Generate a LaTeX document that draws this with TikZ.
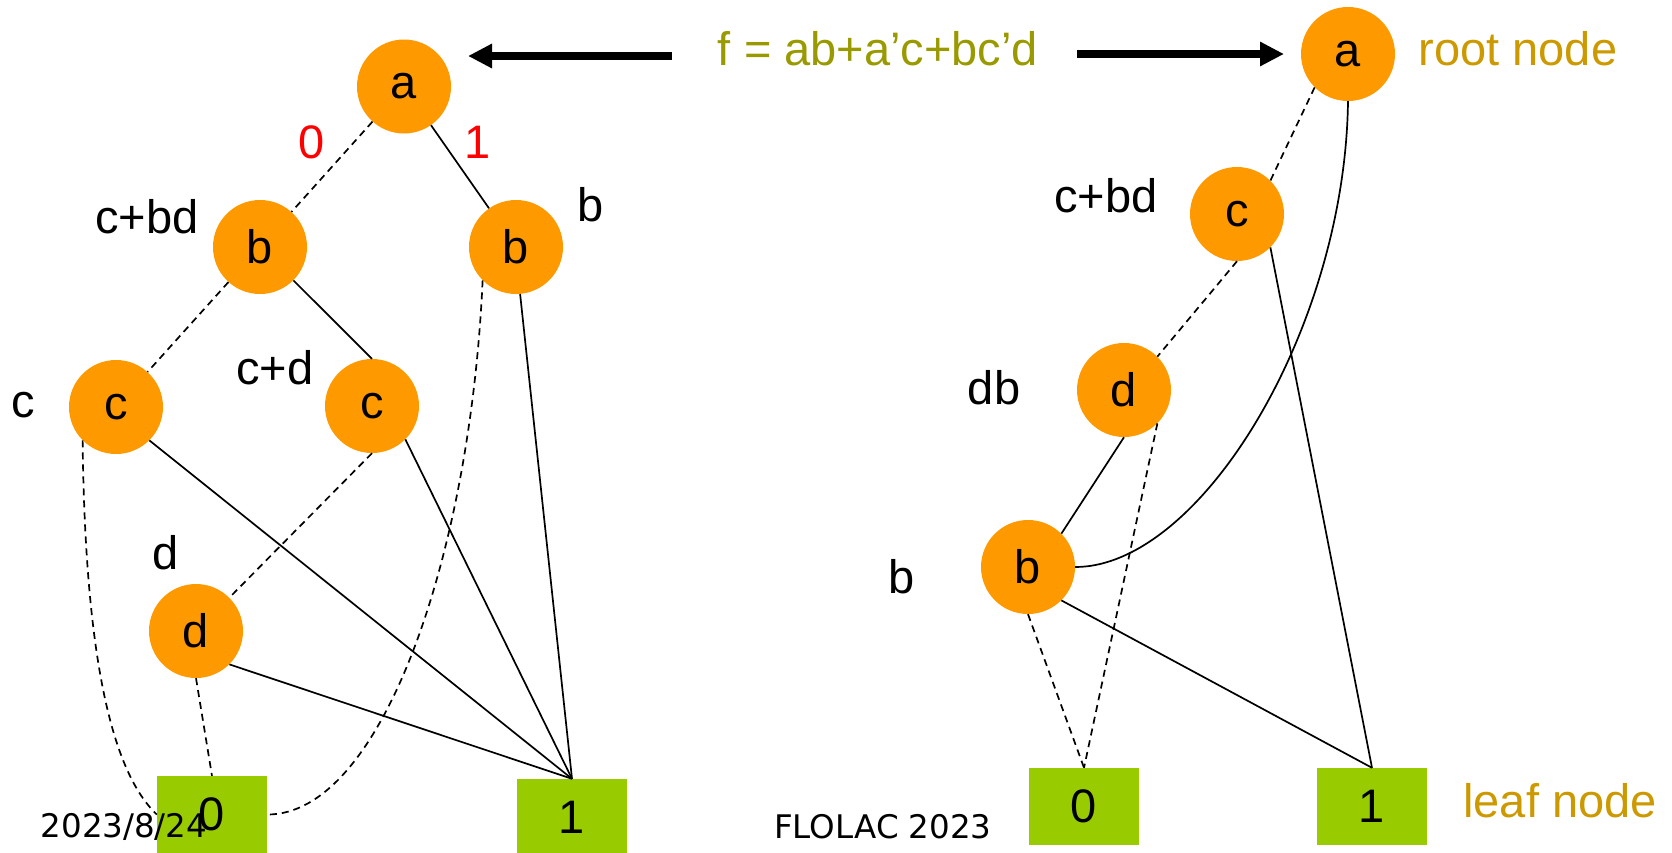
\documentclass[tikz,border=0pt]{standalone}
\usepackage{fontspec}
\setmainfont{Liberation Sans}
\newfontfamily\dvfont{DejaVu Sans}
\usetikzlibrary{arrows.meta}
\definecolor{bddorange}{RGB}{255,153,0}
\definecolor{leafgreen}{RGB}{153,204,0}
\definecolor{olivetext}{RGB}{153,153,0}
\definecolor{goldtext}{RGB}{204,153,0}
\begin{document}
\begin{tikzpicture}[x=1pt,y=-1pt,
  bdd/.style={circle,fill=bddorange,minimum size=94pt,inner sep=0pt,font=\fontsize{47}{56}\selectfont},
  leaf/.style={rectangle,fill=leafgreen,minimum width=110pt,minimum height=77pt,inner sep=0pt,font=\fontsize{47}{56}\selectfont},
  lbl/.style={inner sep=0pt,font=\fontsize{47}{56}\selectfont},
  foot/.style={inner sep=0pt,font=\dvfont\fontsize{32.5}{38}\selectfont},
  zeroedge/.style={line width=1.7pt,dash pattern=on 7pt off 5pt},
  oneedge/.style={line width=1.7pt},
  bigarrow/.style={line width=8pt,-{Triangle[length=24pt,width=23pt]}}
]
\useasboundingbox (0,0) rectangle (1672,852);

% left diagram nodes
\node[bdd] (aL) at (404,86.5) {a};
\node[bdd] (bL1) at (260,247) {b};
\node[bdd] (bL2) at (516,247) {b};
\node[bdd] (cL1) at (116,407) {c};
\node[bdd] (cL2) at (372,406) {c};
\node[bdd] (dL) at (196,631) {d};
\node[leaf] (zeroL) at (212,814.5) {0};
\node[leaf] (oneL) at (572,817.5) {1};

% right diagram nodes
\node[bdd] (aR) at (1348,54) {a};
\node[bdd] (cR) at (1237,214) {c};
\node[bdd] (dR) at (1124,390) {d};
\node[bdd] (bR) at (1028,567) {b};
\node[leaf] (zeroR) at (1084,806.5) {0};
\node[leaf] (oneR) at (1372,806.5) {1};

% labels
\node[lbl,text=red] (l0) at (312,142) {0};
\node[lbl,text=red] (l1) at (478,142) {1};
\node[lbl] (lcbd) at (147,217) {c+bd};
\node[lbl] (lb) at (591,205) {b};
\node[lbl] (lcd) at (275,368) {c+d};
\node[lbl] (lc) at (23,405) {c};
\node[lbl] (ld) at (166,553) {d};
\node[lbl] (rcbd) at (1106,196) {c+bd};
\node[lbl] (rdb) at (994,388) {db};
\node[lbl] (rb) at (902,577) {b};
\node[lbl,text=olivetext] (formula) at (878,49) {f = ab+a’c+bc’d};
\node[lbl,text=goldtext] (root) at (1518,49) {root node};
\node[lbl,text=goldtext] (leafl) at (1560,800.5) {leaf node};

% arrows
\coordinate (arrLs) at (672,56);
\coordinate (arrLe) at (468,56);
\coordinate (arrRs) at (1077,54);
\coordinate (arrRe) at (1284,54);
\draw[bigarrow] (arrLs) -- (arrLe);
\draw[bigarrow] (arrRs) -- (arrRe);

% left edges
\draw[zeroedge] (aL) -- (bL1);
\draw[oneedge] (aL) -- (bL2);
\draw[zeroedge] (bL1) -- (cL1);
\draw[oneedge] (bL1.-45) -- (cL2.north);
\draw[oneedge] (bL2.-85) -- (oneL.north);
\draw[zeroedge] (bL2.-135) .. controls (470,560) and (380,815) .. (zeroL.east);
\draw[zeroedge] (cL1.-135) .. controls (85,650) and (110,770) .. (zeroL.west);
\draw[oneedge] (cL1.-45) -- (oneL.north);
\draw[oneedge] (cL2.-45) -- (oneL.north);
\draw[zeroedge] (cL2.south) -- (dL.45);
\draw[oneedge] (dL.-45) -- (oneL.north);
\draw[zeroedge] (dL.south) -- (zeroL.north);

% right edges
\draw[zeroedge] (aR.-135) -- (cR.45);
\draw[oneedge] (aR.south) .. controls (1345,330) and (1200,567) .. (bR.east);
\draw[zeroedge] (cR.south) -- (dR.45);
\draw[oneedge] (cR.-45) -- (oneR.north);
\draw[oneedge] (dR.south) -- (bR.45);
\draw[zeroedge] (dR.-45) -- (zeroR.north);
\draw[zeroedge] (bR.south) -- (zeroR.north);
\draw[oneedge] (bR.-45) -- (oneR.north);

% footer
\node[foot] (date) at (124,827) {2023/8/24};
\node[foot] (flolac) at (883,826.5) {FLOLAC 2023};
\end{tikzpicture}
\end{document}
